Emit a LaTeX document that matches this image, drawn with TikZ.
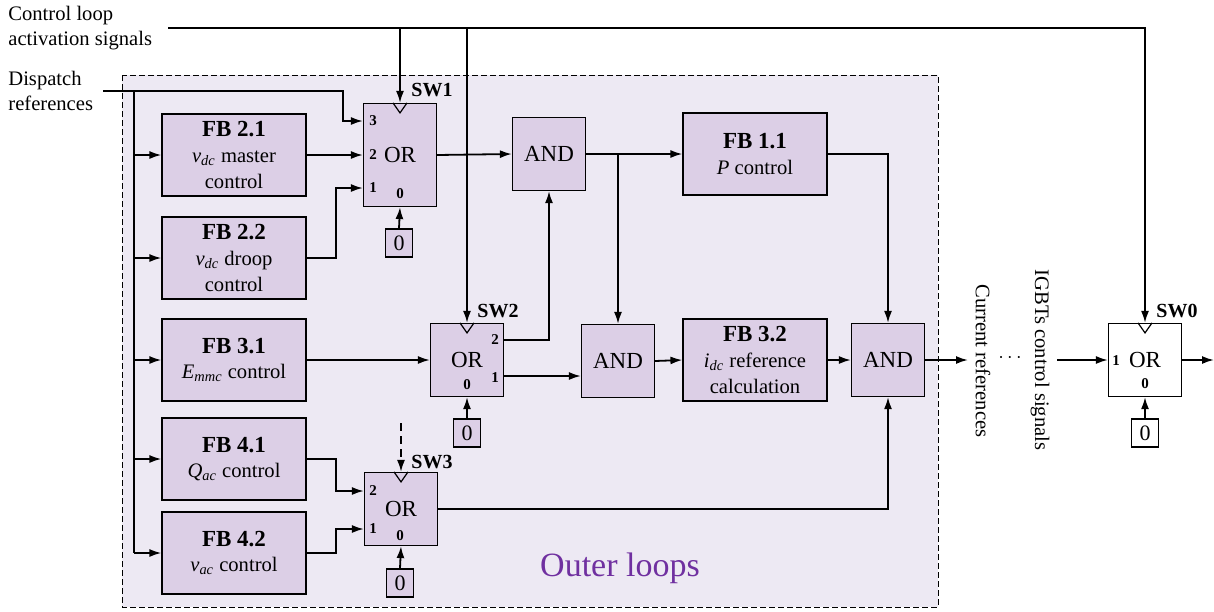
\documentclass[tikz,border=0pt]{standalone}
\usepackage{fontspec}
\setmainfont{Liberation Serif}
\usetikzlibrary{arrows.meta}
\definecolor{bgc}{RGB}{237,233,243}
\definecolor{blockc}{RGB}{220,207,230}
\definecolor{purp}{RGB}{112,48,160}
\newcommand{\fbt}[1]{{\bfseries\fontsize{11.5}{12.5}\selectfont #1}}
\begin{document}
\begin{tikzpicture}[x=0.5pt,y=-0.5pt,
  txt/.style={font=\fontsize{10.3}{12.8}\selectfont},
  fb/.style={draw, fill=blockc, line width=0.6pt, minimum width=72pt, minimum height=41pt, align=center, inner sep=0pt, txt},
  gate/.style={draw, fill=blockc, line width=0.6pt, minimum width=36.5pt, minimum height=36.5pt, inner sep=0pt, font=\fontsize{11.5}{13}\selectfont},
  zero/.style={draw, fill=blockc, line width=0.6pt, minimum width=13.5pt, minimum height=14pt, inner sep=0pt, font=\fontsize{11}{13}\selectfont},
  arr/.style={-{Latex[length=6pt,width=4pt]}, line width=0.9pt},
  ln/.style={line width=0.9pt},
  lab/.style={font=\bfseries\fontsize{7.5}{8}\selectfont, inner sep=0pt},
  swlab/.style={font=\bfseries\fontsize{10}{11}\selectfont, inner sep=0pt},
  lefttxt/.style={txt, anchor=west, align=left, inner sep=0pt}
]
\useasboundingbox (0,0) rectangle (1214,611);
% outer region
\draw[dashed, dash pattern=on 3pt off 1.5pt, line width=0.5pt, fill=bgc] (122,75) rectangle (938,607);
\node[font=\fontsize{17}{20}\selectfont, text=purp] (outer) at (620,568) {Outer loops};

% left texts
\node[lefttxt] (ctl) at (8,28) {Control loop\\activation signals};
\node[lefttxt] (dsp) at (8,91) {Dispatch\\references};

% function blocks
\node[fb] (fb21) at (234,155) {\fbt{FB 2.1}\\\textit{v}\textsubscript{\textit{dc}} master\\control};
\node[fb] (fb22) at (234,258) {\fbt{FB 2.2}\\\textit{v}\textsubscript{\textit{dc}} droop\\control};
\node[fb] (fb31) at (234,360) {\fbt{FB 3.1}\\\textit{E}\textsubscript{\textit{mmc}} control};
\node[fb] (fb41) at (234,459) {\fbt{FB 4.1}\\\textit{Q}\textsubscript{\textit{ac}} control};
\node[fb] (fb42) at (234,553) {\fbt{FB 4.2}\\\textit{v}\textsubscript{\textit{ac}} control};
\node[fb] (fb11) at (755,154) {\fbt{FB 1.1}\\\textit{P} control};
\node[fb] (fb32) at (755,360) {\fbt{FB 3.2}\\\textit{i}\textsubscript{\textit{dc}} reference\\calculation};

% switches
\node[gate, minimum height=51.5pt] (sw1) at (400,155) {OR};
\node[gate] (sw2) at (467,360) {OR};
\node[gate] (sw3) at (401,509) {OR};
\node[gate, fill=white] (sw0) at (1145,360) {OR};
\node[gate] (and1) at (549,154) {AND};
\node[gate] (and2) at (618,361) {AND};
\node[gate] (and3) at (888,360) {AND};

% zero boxes
\node[zero] (z1) at (399,243) {0};
\node[zero] (z2) at (467,433) {0};
\node[zero] (z3) at (400,583) {0};
\node[zero, fill=white] (z0) at (1145,433) {0};

% triangles
\foreach \s in {sw1,sw2,sw3,sw0}{
  \draw[line width=0.6pt] (\s.north) ++(-7,0) -- ++(7,10) -- ++(7,-10);
}

% switch labels
\node[swlab] (l1) at (432,90) {SW1};
\node[swlab] (l2) at (498,311) {SW2};
\node[swlab] (l3) at (432,462) {SW3};
\node[swlab] (l0) at (1177,311) {SW0};

% port labels
\node[lab] (p13) at (373,121) {3};
\node[lab] (p12) at (373,155) {2};
\node[lab] (p11) at (373,188) {1};
\node[lab] (p10) at (400,194) {0};
\node[lab] (p22) at (495,340) {2};
\node[lab] (p21) at (495,378) {1};
\node[lab] (p20) at (467,385) {0};
\node[lab] (p32) at (373,491) {2};
\node[lab] (p31) at (373,529) {1};
\node[lab] (p30) at (400,536) {0};
\node[lab] (p01) at (1116,361) {1};
\node[lab] (p00) at (1145,384) {0};

% control loop activation
\coordinate (cstart) at (168,28);
\draw[arr] (cstart) -| (sw0.north);
\draw[arr] (sw1.north |- cstart) -- (sw1.north);
\draw[arr] (sw2.north |- cstart) -- (sw2.north);
\draw[arr, dashed, dash pattern=on 4pt off 2.5pt] (sw3.north |- 0,423) -- (sw3.north);

% dispatch references
\coordinate (dstart) at (103,91);
\coordinate (bus) at (134,91);
\draw[arr] (dstart) -- (343,91) |- (sw1.west |- 0,121);
\draw[ln] (bus) -- (134,553);
\foreach \b in {fb21,fb22,fb31,fb41,fb42}{
  \draw[arr] (134,0 |- \b.west) -- (\b.west);
}

% SW1 inputs
\draw[arr] (fb21.east) -- (sw1.west |- fb21.east);
\draw[arr] (fb22.east) -- (336,258) |- (sw1.west |- 0,188);
\draw[arr] (z1.north) -- (sw1.south);

% SW1 -> AND1 -> FB1.1
\draw[arr] (sw1.east) -- (and1.west);
\draw[arr] (and1.east) -- (fb11.west);
\draw[arr] (and2.north |- and1.east) -- (and2.north);

% SW2
\draw[arr] (fb31.east) -- (sw2.west);
\draw[arr] (z2.north) -- (sw2.south);
\draw[arr] (sw2.east |- 0,340) -| (and1.south);
\draw[arr] (sw2.east |- 0,376) -- (and2.west |- 0,376);

% middle chain
\draw[arr] (and2.east) -- (fb32.west);
\draw[arr] (fb32.east) -- (and3.west);
\draw[arr] (fb11.east) -| (and3.north);

% SW3
\draw[arr] (fb41.east) -- (336,459) |- (sw3.west |- 0,491);
\draw[arr] (fb42.east) -- (336,553) |- (sw3.west |- 0,529);
\draw[arr] (z3.north) -- (sw3.south);
\draw[arr] (sw3.east) -| (and3.south);

% output side
\node[txt, rotate=-90, inner sep=0pt] (cur) at (983,361) {Current references};
\node[txt, inner sep=0pt] (dots) at (1010,358) {$\cdots$};
\node[txt, rotate=-90, inner sep=0pt] (igbt) at (1040,360) {IGBTs control signals};
\coordinate (curin) at (968,360);
\draw[arr] (and3.east) -- (curin);
\coordinate (igout) at (1057,360);
\draw[arr] (igout) -- (sw0.west);
\coordinate (swout) at (1214,360);
\draw[arr] (sw0.east) -- (swout);
\draw[arr] (z0.north) -- (sw0.south);
\end{tikzpicture}
\end{document}
